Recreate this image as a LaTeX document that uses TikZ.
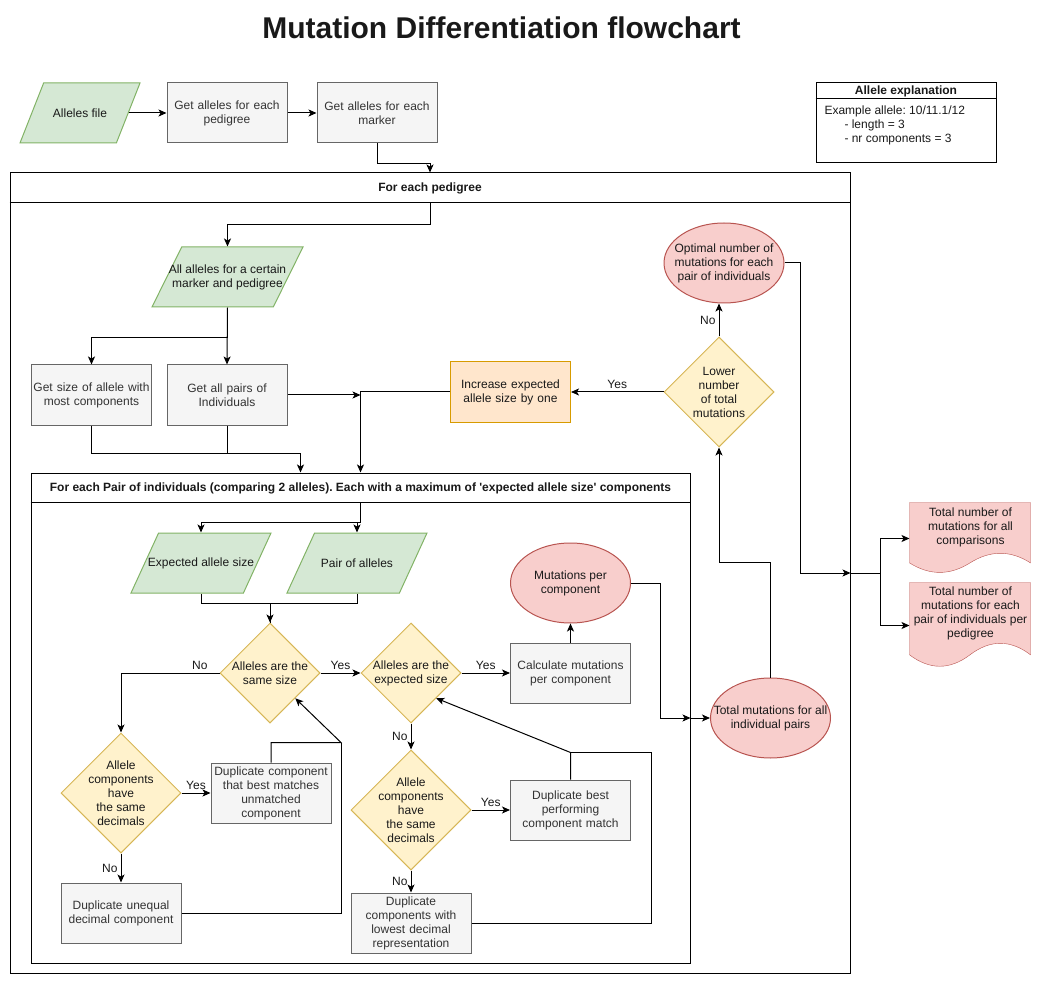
\documentclass[tikz,border=0pt]{standalone}
\usepackage{fontspec}
\setmainfont{Liberation Sans}
\usepackage{tikz}
\usepackage{xcolor}
\usetikzlibrary{shapes,arrows,arrows.meta,positioning,fit,backgrounds,calc}

\definecolor{greenfill}{HTML}{D5E8D4}
\definecolor{greenline}{HTML}{82B366}
\definecolor{grayfill}{HTML}{F5F5F5}
\definecolor{grayline}{HTML}{666666}
\definecolor{graytext}{HTML}{333333}
\definecolor{yellowfill}{HTML}{FFF2CC}
\definecolor{yellowline}{HTML}{D6B656}
\definecolor{redfill}{HTML}{F8CECC}
\definecolor{redline}{HTML}{B85450}
\definecolor{orangefill}{HTML}{FFE6CC}
\definecolor{orangeline}{HTML}{D79B00}

\begin{document}
\frenchspacing
\begin{tikzpicture}[
    x=1pt, y=-1pt, line width=1pt,
    every node/.style={font=\fontsize{12}{14}\selectfont, align=center, inner sep=2pt, text=black!90},
    proc/.style={rectangle, draw=grayline, fill=grayfill, text=graytext, minimum width=120, minimum height=60, text width=120, inner xsep=0},
    inout/.style={trapezium, trapezium left angle=72, trapezium right angle=108, trapezium stretches=true, draw=greenline, fill=greenfill, minimum width=#1, minimum height=60, inner sep=2pt},
    decision/.style={diamond, draw=yellowline, fill=yellowfill, minimum width=#1, minimum height=#1, inner sep=1pt},
    term/.style={ellipse, draw=redline, fill=redfill, minimum width=120, minimum height=80, inner sep=1pt},
    docnode/.style={rectangle, minimum width=121, minimum height=#1, inner sep=0},
    lane/.style={rectangle, draw=black, inner sep=0},
    hdr/.style={font=\fontsize{12}{14}\selectfont\bfseries},
    flow/.style={-{Stealth[length=8pt,width=7pt,inset=2pt]}},
    lbl/.style={inner sep=3pt}
]
\useasboundingbox (0,0) rectangle (1042,984);

\node[font=\fontsize{30}{34}\selectfont\bfseries] (title) at (501.5,28) {Mutation Differentiation flowchart};

% containers
\node[lane, minimum width=840, minimum height=800] (ped) at (430,573) {};
\node[hdr] (pedhdr) at (430,188) {For each pedigree};
\draw ($(ped.north west)+(0,30)$) -- ($(ped.north east)+(0,30)$);
\coordinate (pedbar) at ($(ped.north)+(0,30)$);

\node[lane, minimum width=659, minimum height=490] (pair) at (360.5,718) {};
\node[hdr] (pairhdr) at (360.5,488) {For each Pair of individuals (comparing 2 alleles). Each with a maximum of \textquotesingle expected allele size\textquotesingle\ components};
\draw ($(pair.north west)+(0,30)$) -- ($(pair.north east)+(0,30)$);
\coordinate (pairbar) at ($(pair.north)+(0,30)$);

\node[lane, minimum width=180, minimum height=80] (legend) at (906,123) {};
\node[hdr] (legtitle) at (906,91) {Allele explanation};
\draw ($(legend.north west)+(0,16)$) -- ($(legend.north east)+(0,16)$);
\node[anchor=north west, align=left, inner sep=0] (legbody) at (824,105) {Example allele: 10/11.1/12\\\hspace*{20pt}- length = 3\\\hspace*{20pt}- nr components = 3};

% top row
\node[inout=120, label={center:Alleles file}] (file) at (80,113) {};
\node[proc] (getped) at (227,113) {Get alleles for each\\pedigree};
\node[proc] (getmark) at (377,113) {Get alleles for each\\marker};

% pedigree level
\node[inout=151, label={center:All alleles for a certain\\marker and pedigree}] (allmark) at (227.5,277) {};
\node[proc] (size) at (91.5,395) {Get size of allele with\\most components};
\node[proc] (pairs) at (227,395) {Get all pairs of\\Individuals};
\node[proc, draw=orangeline, fill=orangefill, text=black!90] (inc) at (510.5,392) {Increase expected\\allele size by one};
\node[decision=110, label={center:Lower\\number\\of total\\mutations}] (lower) at (719,392) {};
\node[term, label={center:Optimal number of\\mutations for each\\pair of individuals}] (opt) at (724,263) {};
\node[term, label={center:Total mutations for all\\individual pairs}] (tot) at (770.5,718) {};

% outputs
\node[docnode=71, label={[yshift=11pt]center:Total number of\\mutations for all\\comparisons}] (doc1) at (970.5,538.5) {};
\node[docnode=85, label={[yshift=12pt]center:Total number of\\mutations for each\\pair of individuals per\\pedigree}] (doc2) at (970.5,625.5) {};
\begin{scope}[on background layer, shift={(doc1.north west)}]
  \draw[draw=redline, fill=redfill] (0,0) -- (121,0) -- (121,60.4) .. controls (101,47.6) and (80.7,47.6) .. (60.5,60.4) .. controls (40.3,73.1) and (20.2,73.1) .. (0,60.4) -- cycle;
\end{scope}
\begin{scope}[on background layer, shift={(doc2.north west)}]
  \draw[draw=redline, fill=redfill] (0,0) -- (121,0) -- (121,72.3) .. controls (101,57) and (80.7,57) .. (60.5,72.3) .. controls (40.3,87.6) and (20.2,87.6) .. (0,72.3) -- cycle;
\end{scope}

% pair level
\node[inout=140, label={center:Expected allele size}] (exp) at (201,563) {};
\node[inout=140, label={center:Pair of alleles}] (pairsal) at (357,563) {};
\node[decision=100, label={center:Alleles are the\\same size}] (same) at (270,673) {};
\node[decision=100, label={center:Alleles are the\\expected size}] (expd) at (411,673) {};
\node[proc] (calc) at (570.5,673) {Calculate mutations\\per component};
\node[term, label={center:Mutations per\\component}] (mut) at (570.5,583) {};
\node[decision=120, label={center:Allele\\components\\have\\the same\\decimals}] (adec) at (121,793) {};
\node[proc] (dupmatch) at (271,793) {Duplicate component\\that best matches\\unmatched\\component};
\node[proc] (dupuneq) at (121,913) {Duplicate unequal\\decimal component};
\node[decision=120, label={center:Allele\\components\\have\\the same\\decimals}] (bdec) at (411,810) {};
\node[proc] (dupbest) at (570.5,810) {Duplicate best\\performing\\component match};
\node[proc] (duplow) at (411,923) {Duplicate\\components with\\lowest decimal\\representation};

% connectors
\draw[flow] (file.east) -- (getped.west);
\draw[flow] (getped) -- (getmark);
\draw[flow] (getmark.south) -- ++(0,20) -| (ped.north);
\draw[flow] (pedbar) -- ++(0,22) -| (allmark.north);
\draw[flow] (allmark.south) -- ++(0,30) -| (size.north);
\draw[flow] (allmark.south) -- (pairs.north);
\draw[flow] (size.south) -- ++(0,28) -| ($(pair.north)+(-60,0)$);
\draw (pairs.south) -- ++(0,28);
\draw[flow] (pairs.east) -- (pairs.east -| pair.north);
\draw[flow] (inc.west) -| (pair.north);
\draw[flow] (lower.west) -- node[lbl, above] {Yes} (inc.east);
\draw[flow] (lower.north) -- node[lbl, left] {No} (lower.north |- opt.south);
\draw[flow] (opt.east) -- ++(16,0) |- (ped.east);
\draw[flow] (ped.east) -- ++(30,0) |- (doc1.west);
\draw[flow] (ped.east) -- ++(30,0) |- (doc2.west);

\draw[flow] (pairbar) -- ++(0,20) -| (exp.north);
\draw[flow] (pairbar) -- ++(0,20) -| (pairsal.north);
\draw[flow] (exp.south) -- ++(0,10) -| (same.north);
\draw (pairsal.south) -- ++(0,10) -| (same.north);
\draw[flow] (same.west) -| node[lbl, above, pos=0.1] {No} (adec.north);
\draw[flow] (same.east) -- node[lbl, above] {Yes} (expd.west);
\draw[flow] (expd.east) -- node[lbl, above] {Yes} (calc.west);
\draw[flow] (calc.north) -- (mut.south);
\draw[flow] (mut.east) -- ++(29,0) |- (pair.east);
\draw[flow] (pair.east) -- (tot.west);
\draw[flow] (tot.north) -- ++(0,-115) -| (lower.south);
\draw[flow] (expd.south) -- node[lbl, left] {No} (bdec.north);
\draw[flow] (bdec.east) -- node[lbl, above] {Yes} (dupbest.west);
\draw[flow] (bdec.south) -- node[lbl, left] {No} (duplow.north);
\draw[flow] (dupbest.north) -- ++(0,-27) coordinate (kb) -- (expd.south east);
\draw (duplow.east) -| ($(kb)+(81,0)$) -- (kb);
\draw[flow] (adec.east) -- node[lbl, above] {Yes} (dupmatch.west);
\draw[flow] (adec.south) -- node[lbl, left] {No} (dupuneq.north);
\draw[flow] (dupmatch.north) -- ++(0,-20) -- ++(70,0) coordinate (ka) -- (same.south east);
\draw (dupuneq.east) -| (ka);
\end{tikzpicture}
\end{document}
